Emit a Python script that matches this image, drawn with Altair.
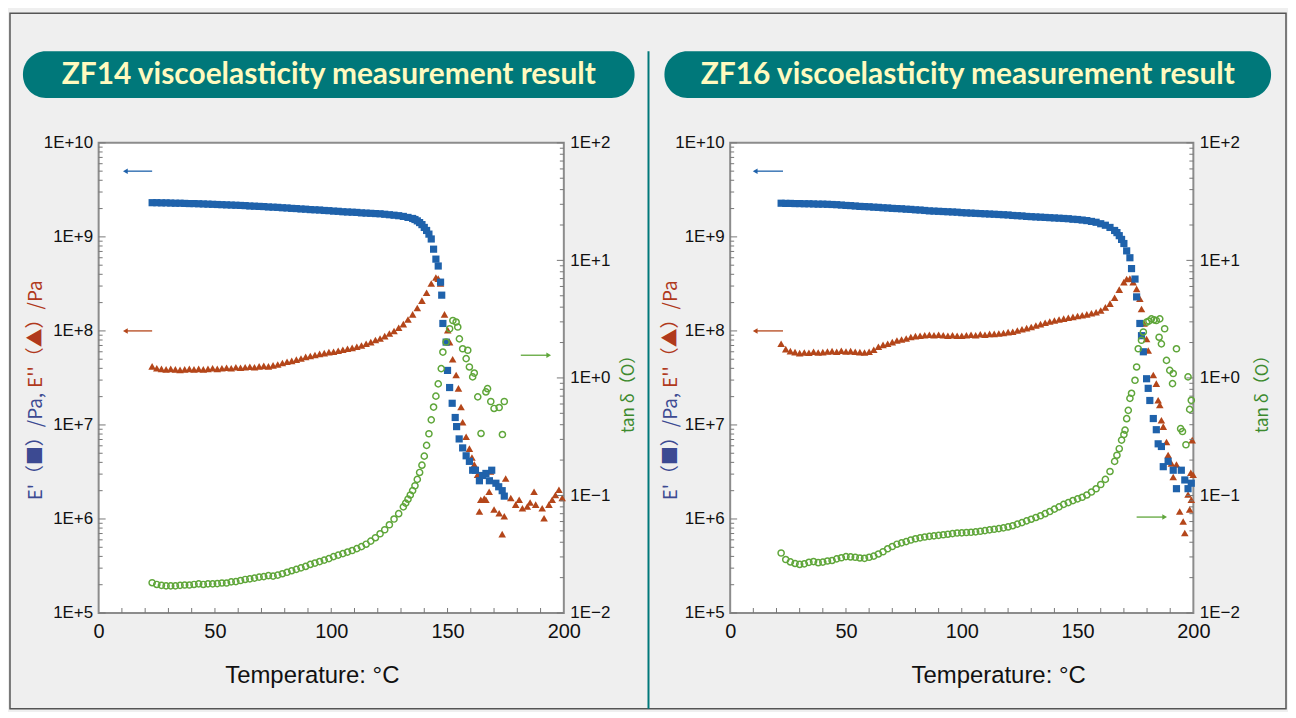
import altair as alt
import pandas as pd

FONT = "Liberation Sans"
JFONT = "Noto Sans CJK JP"
BLUE = "#1f62ab"
BROWN = "#b4461a"
GREEN = "#5fa63a"
TEAL = "#00787a"

# ---------------- ZF14 ----------------
zf14_ep_t = [23, 25, 27, 29, 31, 33, 35, 37, 39, 41, 43, 45, 47, 49, 51, 53, 55, 57, 59, 61,
             63, 65, 67, 69, 71, 73, 75, 77, 79, 81, 83, 85, 87, 89, 91, 93, 95, 97, 99, 101,
             103, 105, 107, 109, 111, 113, 115, 117, 119, 121, 123, 125, 127, 129, 131, 133, 135,
             136, 137, 138, 139, 140, 141, 142, 143, 144, 145, 146, 147,
             147.5, 148, 149.4, 150, 150.9, 152, 153.3, 153.9, 155, 156.5, 158, 159.4, 160.8, 162,
             163.7, 165, 166.5, 168, 169, 170.8, 172, 173.5, 174.4]
zf14_ep_v = [2.31e9, 2.31e9, 2.30e9, 2.30e9, 2.29e9, 2.28e9, 2.28e9, 2.27e9, 2.26e9, 2.26e9,
             2.25e9, 2.24e9, 2.23e9, 2.22e9, 2.21e9, 2.20e9, 2.19e9, 2.18e9, 2.17e9, 2.16e9,
             2.15e9, 2.13e9, 2.12e9, 2.11e9, 2.10e9, 2.08e9, 2.07e9, 2.06e9, 2.04e9, 2.03e9,
             2.01e9, 2.00e9, 1.98e9, 1.97e9, 1.95e9, 1.94e9, 1.93e9, 1.91e9, 1.90e9, 1.88e9,
             1.87e9, 1.85e9, 1.84e9, 1.83e9, 1.82e9, 1.80e9, 1.79e9, 1.78e9, 1.77e9, 1.76e9,
             1.74e9, 1.72e9, 1.70e9, 1.68e9, 1.65e9, 1.61e9, 1.57e9,
             1.53e9, 1.48e9, 1.42e9, 1.35e9, 1.26e9, 1.17e9, 1.07e9, 9.5e8, 7.4e8, 5.8e8, 4.9e8, 3.3e8,
             2.4e8, 1.2e8, 7.6e7, 3.8e7, 2.5e7, 1.7e7, 1.2e7, 9.6e6, 7.1e6, 5.7e6, 4.7e6, 4.1e6, 3.3e6,
             3.3e6, 2.55e6, 2.9e6, 3.05e6, 2.55e6, 3.3e6, 2.4e6, 2.2e6, 2.0e6, 1.75e6]

zf14_epp_t = [23, 25, 27, 29, 31, 33, 35, 37, 39, 41, 43, 45, 47, 49, 51, 53, 55, 57, 59, 61,
              63, 65, 67, 69, 71, 73, 75, 77, 79, 81, 83, 85, 87, 89, 91, 93, 95, 97, 99, 101,
              103, 105, 107, 109, 111, 113, 115, 117, 119, 121, 123, 125, 127, 129, 131, 133, 135,
              137, 139, 141, 143, 145, 146, 147,
              148.7, 150.1, 150.9, 152.2, 153.7, 154.7, 155.8, 156.5, 158, 159.4, 160.5, 161.5, 162.9,
              163.7, 164.3, 165.8, 166.5, 167.9, 168.5, 170, 172.2, 173.5, 174.4, 175, 177.2, 179.3,
              180.8, 182.2, 184.3, 185.5, 187.2, 187.9, 190.7, 191.5, 193.6, 195, 196.4, 197.9, 199.3]
zf14_epp_v = [4.2e7, 4.0e7, 3.95e7, 3.9e7, 3.95e7, 3.9e7, 3.85e7, 3.9e7, 3.95e7, 3.9e7,
              3.95e7, 3.9e7, 3.95e7, 4.0e7, 3.95e7, 4.0e7, 4.05e7, 4.0e7, 4.1e7, 4.05e7,
              4.1e7, 4.15e7, 4.1e7, 4.2e7, 4.25e7, 4.2e7, 4.3e7, 4.4e7, 4.55e7, 4.7e7,
              4.8e7, 4.95e7, 5.1e7, 5.3e7, 5.4e7, 5.55e7, 5.7e7, 5.8e7, 5.95e7, 6.0e7,
              6.15e7, 6.3e7, 6.45e7, 6.6e7, 6.8e7, 7.0e7, 7.3e7, 7.6e7, 8.0e7, 8.3e7,
              8.8e7, 9.4e7, 1.0e8, 1.08e8, 1.18e8, 1.32e8, 1.5e8, 1.75e8, 2.1e8, 2.55e8,
              3.2e8, 3.7e8, 3.6e8, 3.2e8,
              1.5e8, 1.02e8, 7.6e7, 5.0e7, 3.4e7, 2.45e7, 1.55e7, 1.07e7, 7.5e6, 5.6e6, 4.5e6, 3.8e6,
              2.95e6, 1.2e6, 1.6e6, 1.65e6, 1.6e6, 1.95e6, 3.2e6, 1.26e6, 1.15e6, 6.9e5, 1.07e6, 2.7e6,
              1.67e6, 1.42e6, 1.6e6, 1.3e6, 1.36e6, 1.5e6, 1.95e6, 1.42e6, 1.3e6, 1.02e6, 1.42e6, 1.6e6,
              1.8e6, 2.05e6, 1.67e6]

zf14_tan_t = [23, 25, 27, 29, 31, 33, 35, 37, 39, 41, 43, 45, 47, 49, 51, 53, 55, 57, 59, 61,
              63, 65, 67, 69, 71, 73, 75, 77, 79, 81, 83, 85, 87, 89, 91, 93, 95, 97, 99, 101,
              103, 105, 107, 109, 111, 113, 115, 117, 119, 121, 123, 125, 127, 129, 131,
              132, 133, 134, 135, 136, 137, 138, 139, 140, 141, 142, 143, 144, 145, 146,
              147.3, 148, 149.4, 150.9, 152.3, 153.7, 154.4, 155.1, 156.5, 158, 158.7, 159.4, 160.8,
              161.5, 163, 164.4, 166.5, 167.2, 168.6, 170, 172.2, 173.6, 174.4]
zf14_tan_v = [0.0181, 0.0175, 0.0172, 0.0170, 0.0170, 0.0170, 0.0172, 0.0173, 0.0173, 0.0175,
              0.0177, 0.0175, 0.0177, 0.0177, 0.0178, 0.0180, 0.0180, 0.0184, 0.0185, 0.0189,
              0.0193, 0.0195, 0.0198, 0.0202, 0.0204, 0.0208, 0.0206, 0.0210, 0.0216, 0.0222,
              0.0229, 0.0235, 0.0242, 0.0249, 0.0259, 0.0266, 0.0274, 0.0282, 0.0290, 0.0302,
              0.0311, 0.0320, 0.0330, 0.0340, 0.0353, 0.0367, 0.0385, 0.0409, 0.0437, 0.0472,
              0.0511, 0.0563, 0.0630, 0.0700, 0.0800,
              0.086, 0.093, 0.101, 0.110, 0.121, 0.137, 0.157, 0.181, 0.216, 0.267, 0.335, 0.44,
              0.565, 0.70, 0.89,
              1.2, 1.66, 2.02, 2.62, 3.08, 2.99, 2.71, 2.15, 1.77, 1.46, 1.72, 1.24, 1.02,
              1.1, 0.69, 0.337, 0.76, 0.81, 0.63, 0.55, 0.56, 0.33, 0.63]

# ---------------- ZF16 ----------------
zf16_ep_t = [22, 24, 26, 28, 30, 32, 34, 36, 38, 40, 42, 44, 46, 48, 50, 52, 54, 56, 58, 60,
             62, 64, 66, 68, 70, 72, 74, 76, 78, 80, 82, 84, 86, 88, 90, 92, 94, 96, 98, 100,
             102, 104, 106, 108, 110, 112, 114, 116, 118, 120, 122, 124, 126, 128, 130, 132, 134,
             136, 138, 140, 142, 144, 146, 148, 150, 152, 154, 156, 158, 160, 162, 164, 166,
             167, 168, 169, 170, 171.2, 172.6, 173.3, 174.8, 175.5, 176.9, 177.6, 178.4, 179.8,
             180.5, 181.2, 182.7, 184, 184.8, 186.2, 187, 189.1, 191.3, 192.7, 194.8, 196.3, 197.7, 199.1]
zf16_ep_v = [2.28e9, 2.27e9, 2.27e9, 2.26e9, 2.26e9, 2.25e9, 2.25e9, 2.24e9, 2.23e9, 2.23e9,
             2.22e9, 2.21e9, 2.20e9, 2.18e9, 2.16e9, 2.15e9, 2.13e9, 2.11e9, 2.10e9, 2.09e9,
             2.07e9, 2.06e9, 2.04e9, 2.03e9, 2.01e9, 2.00e9, 1.99e9, 1.97e9, 1.96e9, 1.94e9,
             1.93e9, 1.91e9, 1.89e9, 1.88e9, 1.87e9, 1.86e9, 1.85e9, 1.84e9, 1.83e9, 1.81e9,
             1.80e9, 1.79e9, 1.78e9, 1.77e9, 1.76e9, 1.75e9, 1.74e9, 1.73e9, 1.72e9, 1.71e9,
             1.69e9, 1.68e9, 1.67e9, 1.65e9, 1.64e9, 1.63e9, 1.62e9, 1.61e9, 1.60e9, 1.59e9,
             1.58e9, 1.57e9, 1.56e9, 1.54e9, 1.53e9, 1.51e9, 1.49e9, 1.46e9, 1.43e9, 1.38e9,
             1.33e9, 1.26e9, 1.17e9,
             1.11e9, 1.03e9, 9.4e8, 8.5e8, 7.1e8, 6.0e8, 4.6e8, 3.56e8, 2.3e8, 1.2e8, 8.9e7, 6.0e7,
             3.1e7, 2.45e7, 1.82e7, 1.17e7, 8.9e6, 6.3e6, 5.9e6, 3.6e6, 4.1e6, 3.3e6, 2.1e6, 3.3e6,
             2.6e6, 2.1e6, 2.4e6]

zf16_epp_t = [22, 24, 26, 28, 30, 32, 34, 36, 38, 40, 42, 44, 46, 48, 50, 52, 54, 56, 58, 60,
              62, 64, 66, 68, 70, 72, 74, 76, 78, 80, 82, 84, 86, 88, 90, 92, 94, 96, 98, 100,
              102, 104, 106, 108, 110, 112, 114, 116, 118, 120, 122, 124, 126, 128, 130, 132, 134,
              136, 138, 140, 142, 144, 146, 148, 150, 152, 154, 156, 158, 160, 162, 164, 166, 168, 170,
              171.2, 172.6, 174, 175.5, 176.9, 177.6, 178.7, 179.8, 180.5, 182.7, 184, 184.8, 185.5,
              186.2, 187, 188.4, 189.1, 190.5, 191.3, 192.7, 194.1, 195.6, 196.3, 197.7, 198.4, 198.9,
              199.1, 199.9, 199.5]
zf16_epp_v = [7.3e7, 6.4e7, 6.1e7, 5.95e7, 5.8e7, 5.9e7, 5.85e7, 6.0e7, 5.9e7, 5.95e7,
              6.05e7, 6.1e7, 6.0e7, 6.15e7, 6.05e7, 6.1e7, 6.0e7, 5.95e7, 5.9e7, 6.0e7,
              6.3e7, 6.8e7, 7.1e7, 7.3e7, 7.6e7, 7.9e7, 8.1e7, 8.3e7, 8.6e7, 8.8e7,
              8.9e7, 9.0e7, 9.1e7, 9.0e7, 9.1e7, 9.0e7, 8.9e7, 9.0e7, 8.9e7, 8.9e7,
              9.0e7, 9.1e7, 9.0e7, 9.2e7, 9.1e7, 9.3e7, 9.3e7, 9.4e7, 9.5e7, 9.7e7,
              9.8e7, 1.01e8, 1.04e8, 1.07e8, 1.1e8, 1.14e8, 1.18e8, 1.22e8, 1.26e8, 1.29e8,
              1.32e8, 1.35e8, 1.38e8, 1.41e8, 1.44e8, 1.47e8, 1.5e8, 1.54e8, 1.58e8, 1.65e8,
              1.78e8, 1.95e8, 2.25e8, 2.75e8, 3.3e8,
              3.56e8, 3.6e8, 3.3e8, 2.8e8, 2.2e8, 1.71e8, 1.2e8, 8.2e7, 6.2e7, 3.4e7, 2.75e7, 1.83e7,
              1.63e7, 1.12e7, 9.6e6, 6.6e6, 4.8e6, 3.9e6, 2.8e6, 3.8e6, 1.2e6, 9.4e5, 7.1e5, 1.82e6,
              1.26e6, 3.1e6, 1.6e6, 2.95e6, 6.9e6]

zf16_tan_t = [22, 24, 26, 28, 30, 32, 34, 36, 38, 40, 42, 44, 46, 48, 50, 52, 54, 56, 58, 60,
              62, 64, 66, 68, 70, 72, 74, 76, 78, 80, 82, 84, 86, 88, 90, 92, 94, 96, 98, 100,
              102, 104, 106, 108, 110, 112, 114, 116, 118, 120, 122, 124, 126, 128, 130, 132, 134,
              136, 138, 140, 142, 144, 146, 148, 150, 152, 154, 156, 158, 160, 162, 164, 166,
              167, 168, 169, 170, 170.5, 171.2, 171.9, 172.6, 173.3, 174.8, 175.5, 176.2, 177.6,
              178.4, 179.8, 180.8, 181.9, 183, 184, 185.5, 187.6, 185.2, 186.2, 188.4, 189.8, 191.3,
              192.7, 191, 197.7, 199.1, 194.5, 195.3, 196.8, 198.4]
zf16_tan_v = [0.0324, 0.0285, 0.0272, 0.0264, 0.0259, 0.0262, 0.0270, 0.0274, 0.0268, 0.0271,
              0.0277, 0.0280, 0.0289, 0.0295, 0.0302, 0.0300, 0.0298, 0.0294, 0.0292, 0.0298,
              0.0305, 0.0318, 0.0332, 0.0352, 0.0368, 0.0385, 0.0395, 0.0405, 0.0418, 0.0428,
              0.0436, 0.0443, 0.0449, 0.0453, 0.0458, 0.0463, 0.0468, 0.0474, 0.0479, 0.0481,
              0.0484, 0.0486, 0.0490, 0.0496, 0.0502, 0.0510, 0.0516, 0.0522, 0.0530, 0.0540,
              0.0553, 0.0570, 0.0588, 0.0608, 0.0628, 0.0650, 0.0672, 0.0700, 0.0730, 0.0765,
              0.0800, 0.0840, 0.0870, 0.0905, 0.0935, 0.0965, 0.101, 0.107, 0.114, 0.124,
              0.137, 0.160, 0.195,
              0.22, 0.25, 0.296, 0.33, 0.36, 0.45, 0.53, 0.67, 0.74, 0.955, 1.24, 1.77, 2.09,
              2.46, 2.98, 3.05, 3.18, 3.12, 3.08, 3.18, 2.62, 2.22, 1.95, 1.41, 1.16, 1.09,
              1.77, 0.895, 1.02, 0.645, 0.37, 0.35, 0.27, 0.54]

# arrows: [E' arrow, E'' arrow] pointing left; tan arrow pointing right
zf14_arrow_t1 = [11.5, 11.5]
zf14_arrow_t2 = [23, 23]
zf14_arrow_v = [5.0e9, 1.0e8]
zf14_tan_arrow = [181.5, 193.5, 1.56]
zf16_arrow_t1 = [10.8, 10.8]
zf16_arrow_t2 = [22.8, 22.8]
zf16_arrow_v = [5.0e9, 1.0e8]
zf16_tan_arrow = [175.5, 187.6, 0.0655]

# axes
x_ticks = [0, 50, 100, 150, 200]
x_minor = [10, 20, 30, 40, 50, 60, 70, 80, 90, 100, 110, 120, 130, 140, 150, 160, 170, 180, 190]
e_ticks = [1e5, 1e6, 1e7, 1e8, 1e9, 1e10]
tan_ticks = [0.01, 0.1, 1, 10, 100]
mults = [2, 3, 4, 5, 6, 7, 8, 9]
e_minor = [m * d for d in e_ticks[:-1] for m in mults]
tan_minor = [m * d for d in tan_ticks[:-1] for m in mults]

H = 472
XS = alt.Scale(domain=[0, 200], nice=False, zero=False)
ES = alt.Scale(type="log", domain=[1e5, 1e10], nice=False)
TS = alt.Scale(type="log", domain=[0.01, 100], nice=False)

E_AXIS = alt.Axis(orient="left", values=e_ticks, title=None, grid=False, ticks=False, tickSize=0,
                  domain=False, labelFont=FONT, labelFontSize=17, labelColor="#111",
                  labelPadding=6, labelOverlap=False,
                  labelExpr="'1E+' + round(log(datum.value)/LN10)")
T_AXIS = alt.Axis(orient="right", values=tan_ticks, title=None, grid=False, ticks=False, tickSize=0,
                  domain=False, labelFont=FONT, labelFontSize=17, labelColor="#111",
                  labelPadding=6, labelOverlap=False,
                  labelExpr="datum.value >= 1 ? '1E+' + round(log(datum.value)/LN10) : '1E\u2212' + round(-log(datum.value)/LN10)")

one = pd.DataFrame({"d": [0]})


def x_axis(tx):
    return alt.Axis(values=x_ticks, title="Temperature: °C", grid=False, ticks=False, tickSize=0,
                    domain=False, labelFont=FONT, labelFontSize=20, labelColor="#111",
                    labelPadding=9, labelFlush=False, titleFont=FONT, titleFontSize=24,
                    titleFontWeight="normal", titleColor="#111", titleX=tx, titleY=70,
                    titleAlign="center", titleBaseline="alphabetic")


def panel(ep_t, ep_v, epp_t, epp_v, tan_t, tan_v, a_t1, a_t2, a_v, tan_arrow, width,
          title, tx, ylab_x, tanlab_x, pill_x, pill_x2, left=False):
    XA = x_axis(tx)
    X = lambda f: alt.X(f, scale=XS, axis=XA)
    YE = lambda f: alt.Y(f, scale=ES, axis=E_AXIS)
    YT = lambda f: alt.Y(f, scale=TS, axis=T_AXIS)

    ep = alt.Chart(pd.DataFrame({"T": ep_t, "v": ep_v})).mark_point(
        shape="square", filled=True, size=52, color=BLUE, opacity=1).encode(x=X("T:Q"), y=YE("v:Q"))
    epp = alt.Chart(pd.DataFrame({"T": epp_t, "v": epp_v})).mark_point(
        shape="triangle-up", filled=True, size=58, color=BROWN, opacity=1).encode(x=X("T:Q"), y=YE("v:Q"))
    tan = alt.Chart(pd.DataFrame({"T": tan_t, "v": tan_v})).mark_point(
        shape="circle", filled=False, size=38, color=GREEN, strokeWidth=1.5, opacity=1).encode(
        x=X("T:Q"), y=YT("v:Q"))

    adf = pd.DataFrame({"T": a_t1, "T2": a_t2, "v": a_v, "c": [BLUE, BROWN]})
    aline = alt.Chart(adf).mark_rule(strokeWidth=1.3).encode(
        x=X("T:Q"), x2="T2:Q", y=YE("v:Q"), color=alt.Color("c:N", scale=None))
    ahead = alt.Chart(adf).mark_point(shape="triangle-left", filled=True, size=30, opacity=1).encode(
        x=X("T:Q"), y=YE("v:Q"), color=alt.Color("c:N", scale=None))

    tdf = pd.DataFrame({"T": [tan_arrow[0]], "T2": [tan_arrow[1]], "v": [tan_arrow[2]]})
    tline = alt.Chart(tdf).mark_rule(strokeWidth=1.3, color=GREEN).encode(
        x=X("T:Q"), x2="T2:Q", y=YT("v:Q"))
    thead = alt.Chart(tdf).mark_point(shape="triangle-right", filled=True, size=30, color=GREEN,
                                      opacity=1).encode(x=X("T2:Q"), y=YT("v:Q"))

    # inner tick marks
    etk = alt.Chart(pd.DataFrame({"v": e_minor})).mark_rule(color="#777", strokeWidth=1).encode(
        y=YE("v:Q"), x=alt.value(0), x2=alt.value(4))
    etkM = alt.Chart(pd.DataFrame({"v": e_ticks})).mark_rule(color="#777", strokeWidth=1).encode(
        y=YE("v:Q"), x=alt.value(0), x2=alt.value(7))
    ttk = alt.Chart(pd.DataFrame({"v": tan_minor})).mark_rule(color="#777", strokeWidth=1).encode(
        y=YT("v:Q"), x=alt.value(width), x2=alt.value(width - 4))
    ttkM = alt.Chart(pd.DataFrame({"v": tan_ticks})).mark_rule(color="#777", strokeWidth=1).encode(
        y=YT("v:Q"), x=alt.value(width), x2=alt.value(width - 7))
    xtk = alt.Chart(pd.DataFrame({"T": x_minor})).mark_rule(color="#777", strokeWidth=1).encode(
        x=X("T:Q"), y=alt.value(H), y2=alt.value(H - 5))

    e_layer = alt.layer(etk, etkM, epp, ep, aline, ahead, xtk)
    t_layer = alt.layer(ttk, ttkM, tan, tline, thead)

    decos = []
    if left:
        decos.append(alt.Chart(one).mark_rect(fillOpacity=0, stroke="#555", strokeWidth=1.5).encode(
            x=alt.value(-89), x2=alt.value(1192), y=alt.value(-130), y2=alt.value(568)))
        decos.append(alt.Chart(one).mark_rule(color=TEAL, strokeWidth=2).encode(
            x=alt.value(552), y=alt.value(-92), y2=alt.value(568)))
    decos.append(alt.Chart(one).mark_rect(color=TEAL, cornerRadius=23).encode(
        x=alt.value(pill_x), x2=alt.value(pill_x2), y=alt.value(-92), y2=alt.value(-45)))
    decos.append(alt.Chart(one).mark_text(
        text=title, font="Lato", fontSize=30, fontWeight="bold", color="#fffabf",
        align="center", baseline="middle").encode(
        x=alt.value((pill_x + pill_x2) / 2), y=alt.value(-68)))
    # y title in two colours, split point near page y 390
    decos.append(alt.Chart(one).mark_text(
        text="E'（■）/Pa,", font=JFONT, fontSize=19, color="#3c4a92", angle=270,
        align="right", baseline="middle").encode(x=alt.value(ylab_x), y=alt.value(251)))
    decos.append(alt.Chart(one).mark_text(
        text="E''（▲）/Pa", font=JFONT, fontSize=19, color="#b0391c", angle=270,
        align="left", baseline="middle").encode(x=alt.value(ylab_x), y=alt.value(246)))
    decos.append(alt.Chart(one).mark_text(
        text="tan δ（O）", font=JFONT, fontSize=17, color="#3d8a2e", angle=270,
        align="center", baseline="middle").encode(x=alt.value(tanlab_x), y=alt.value(248)))

    return alt.layer(*decos, e_layer, t_layer).resolve_scale(y="independent").properties(
        width=width, height=H)


left = panel(zf14_ep_t, zf14_ep_v, zf14_epp_t, zf14_epp_v, zf14_tan_t, zf14_tan_v,
             zf14_arrow_t1, zf14_arrow_t2, zf14_arrow_v, zf14_tan_arrow, 467,
             "ZF14 viscoelasticity measurement result", 214, -63, 532, -76, 538, left=True)
right = panel(zf16_ep_t, zf16_ep_v, zf16_epp_t, zf16_epp_v, zf16_tan_t, zf16_tan_v,
              zf16_arrow_t1, zf16_arrow_t2, zf16_arrow_v, zf16_tan_arrow, 465,
              "ZF16 viscoelasticity measurement result", 269, -59, 535, -66, 543)

chart = alt.hconcat(left, right, spacing=167, bounds="flush").configure(
    background="#efefef", padding={"left": 0, "top": 2, "right": 0, "bottom": 0}
).configure_view(fill="white", stroke="#8c8c8c", strokeWidth=2)

chart.save("out.html", embed_options={"renderer": "svg", "actions": False})
